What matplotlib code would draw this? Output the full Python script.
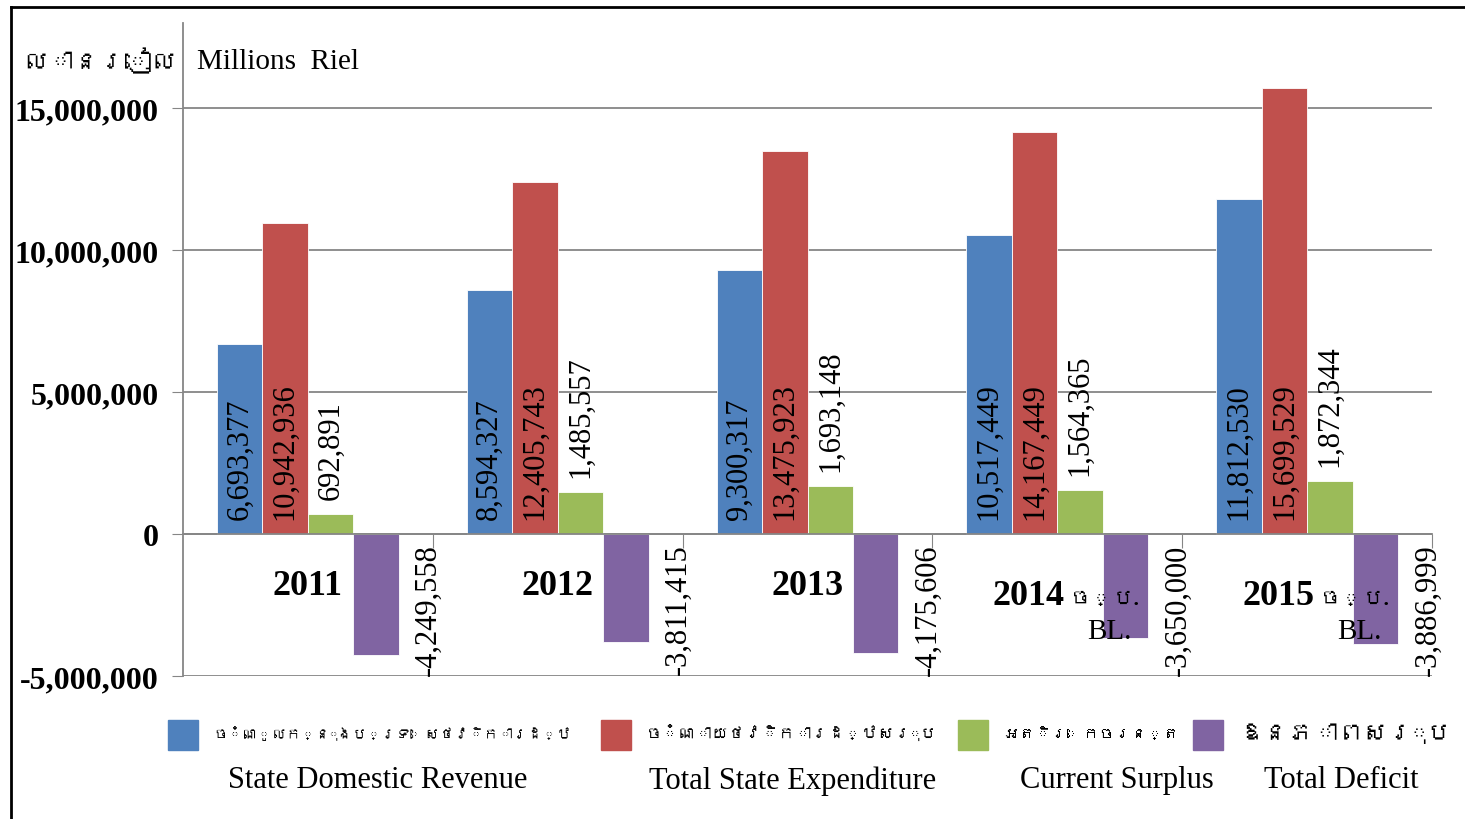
import numpy as np
import matplotlib
matplotlib.use('Agg')
import matplotlib.pyplot as plt
from matplotlib import font_manager, ft2font
from matplotlib.patches import Rectangle
from matplotlib.lines import Line2D

# data (millions riel)
years = ['2011', '2012', '2013', '2014 ច្ប.', '2015 ច្ប.']
year_notes = ['', '', '', 'BL.', 'BL.']
revenue = [6693377, 8594327, 9300317, 10517449, 11812530]
expenditure = [10942936, 12405743, 13475923, 14167449, 15699529]
surplus = [692891, 1485557, 1693148, 1564365, 1872344]
deficit = [-4249558, -3811415, -4175606, -3650000, -3886999]

names_kh = ['ចំណូលក្នុងប្រទេសថវិការដ្ឋ', 'ចំណាយថវិការដ្ឋសរុប', 'អតិរេកចរន្ត', 'ឱនភាពសរុប']
names_en = ['State Domestic Revenue', 'Total State Expenditure', 'Current Surplus', 'Total Deficit']
colors = ['#4F81BD', '#C0504D', '#9BBB59', '#8064A2']
yticks = [-5000000, 0, 5000000, 10000000, 15000000]

# look for any installed font that covers khmer
families = ['Liberation Serif', 'DejaVu Sans']
for fpath in font_manager.findSystemFonts():
    try:
        if 0x1780 in ft2font.FT2Font(fpath).get_charmap():
            families.insert(1, font_manager.FontProperties(fname=fpath).get_name())
            break
    except Exception:
        pass
plt.rcParams['font.family'] = families

W, H = 1465, 820
fig = plt.figure(figsize=(W / 100, H / 100), dpi=100)
ax = fig.add_axes([183 / W, 1 - 677 / H, (1432 - 183) / W, (677 - 24) / H])
renderer = fig.canvas.get_renderer()


def fit(t, width_px):
    # khmer is drawn without shaping, so shrink it to the room it has
    size = t.get_fontsize()
    while t.get_window_extent(renderer).width > width_px and size > 6:
        size -= 0.5
        t.set_fontsize(size)


x = np.arange(len(years))
w = 0.182
series = [revenue, expenditure, surplus, deficit]
off = 530000  # label gap

for k, vals in enumerate(series):
    pos = x + (k - 1.5) * w
    bars = ax.bar(pos, vals, w, color=colors[k], edgecolor='white', linewidth=0.6, zorder=3)
    for b, v in zip(bars, vals):
        cx = b.get_x() + b.get_width() / 2
        txt = '{:,.0f}'.format(v)
        if k < 2:
            ax.text(cx, off, txt, rotation=90, ha='center', va='bottom', fontsize=22, zorder=4)
        elif k == 2:
            ax.text(cx, v + off, txt, rotation=90, ha='center', va='bottom', fontsize=22, zorder=4)
        else:
            ax.text(cx + 0.21, -330000, txt, rotation=90, ha='center', va='top', fontsize=22, zorder=4)

# category labels inside the plot below zero
for i, (yr, note) in enumerate(zip(years, year_notes)):
    if note:
        num, kh = yr.split(' ')
        ax.text(i + 0.03, -2460000, num, ha='right', va='baseline', fontsize=26, fontweight='bold', zorder=4)
        t = ax.text(i + 0.05, -2460000, kh, ha='left', va='baseline', fontsize=26, fontweight='bold', zorder=4)
        fit(t, 70)
        ax.text(i + 0.21, -3420000, note, ha='center', va='center', fontsize=21, zorder=4)
    else:
        ax.text(i, -2110000, yr, ha='center', va='baseline', fontsize=26, fontweight='bold', zorder=4)

ax.set_xlim(-0.5, 4.5)
ax.set_ylim(-5000000, 18000000)
ax.set_yticks(yticks, labels=['{:,.0f}'.format(t) for t in yticks], fontsize=23, fontweight='bold')
ax.set_xticks(x + 0.5, labels=[''] * len(x))
ax.tick_params(axis='y', length=8, color='#868686', pad=9.5)
ax.tick_params(axis='x', length=10, color='#868686', direction='out')
ax.yaxis.grid(True, color='#868686', linewidth=1.3)
ax.set_axisbelow(True)
for s in ['top', 'right']:
    ax.spines[s].set_visible(False)
ax.spines['left'].set_color('#868686')
ax.spines['left'].set_linewidth(1.3)
ax.spines['bottom'].set_position(('data', 0))
ax.spines['bottom'].set_color('#868686')
ax.spines['bottom'].set_linewidth(1.3)
ax.spines['bottom'].set_zorder(5)

# unit title
t = fig.text(177 / W, 1 - 62 / H, 'លានរៀល', ha='right', va='center', fontsize=22)
fit(t, 158)
fig.text(197 / W, 1 - 62 / H, 'Millions  Riel', ha='left', va='center', fontsize=21)

# legend drawn by hand (khmer name over english name)
mk_x = [168, 601, 958, 1193]
kh_w = [370, 300, 178, 215]
en_x = [378, 793, 1117, 1341]
for k in range(4):
    fig.add_artist(Rectangle((mk_x[k] / W, 1 - 751 / H), 30 / W, 30 / H,
                             transform=fig.transFigure, color=colors[k]))
    t = fig.text((mk_x[k] + 45) / W, 1 - 735 / H, names_kh[k], ha='left', va='center', fontsize=22)
    fit(t, kh_w[k])
    fig.text(en_x[k] / W, 1 - 781 / H, names_en[k], ha='center', va='center', fontsize=22)

# outer frame (left and top edges)
fig.add_artist(Line2D([11 / W, 11 / W], [0, 1 - 8 / H], color='black', linewidth=2))
fig.add_artist(Line2D([11 / W, 1], [1 - 8 / H, 1 - 8 / H], color='black', linewidth=2))

fig.savefig('out.png', dpi=100)
